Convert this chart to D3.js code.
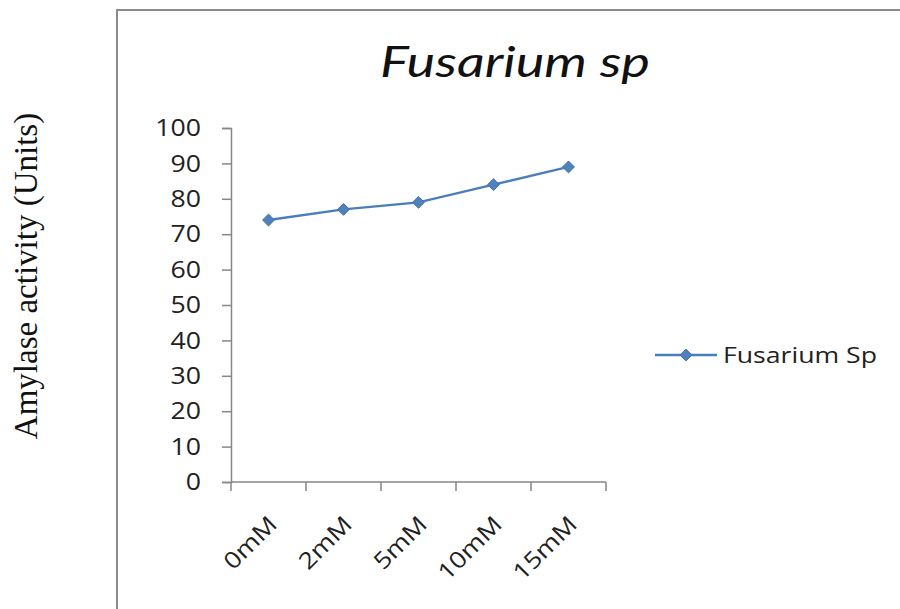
<!DOCTYPE html>
<html>
<head>
<meta charset="utf-8">
<script src="https://cdn.jsdelivr.net/npm/d3@7"></script>
<style>
  html, body { margin: 0; padding: 0; background: #fff; }
  svg { display: block; }
</style>
</head>
<body>
<svg id="chart" width="900" height="609"></svg>
<script>
// Amylase activity of Fusarium sp at different metal ion concentrations
const categories = ["0mM", "2mM", "5mM", "10mM", "15mM"];
const activity = [74, 77, 79, 84, 89];
const yTicks = [0, 10, 20, 30, 40, 50, 60, 70, 80, 90, 100];
const seriesName = "Fusarium Sp";
const chartTitle = "Fusarium sp";
const yLabel = "Amylase activity (Units)";

const svg = d3.select("#chart");
const blue = "#4a7ebb";
const axisGray = "#868686";
const textColor = "#222";
const sansFont = "'Open Sans', sans-serif";
const widen = 1.16; // horizontal stretch of the sans-serif labels

// chart frame
svg.append("rect")
  .attr("x", 117).attr("y", 10)
  .attr("width", 800).attr("height", 620)
  .attr("fill", "none").attr("stroke", "#8c8c8c").attr("stroke-width", 2);

const plot = { left: 231, right: 606, top: 128, bottom: 482 };

const x = d3.scaleBand().domain(categories).range([plot.left, plot.right]);
const y = d3.scaleLinear().domain([0, 100]).range([plot.bottom, plot.top]);

// y axis: line and ticks from d3.axisLeft, labels placed separately
const yAxis = svg.append("g")
  .attr("transform", `translate(${plot.left},0)`)
  .call(d3.axisLeft(y).tickValues(yTicks).tickSize(9).tickFormat(""));
yAxis.select(".domain").attr("stroke", axisGray).attr("stroke-width", 1.5);
yAxis.selectAll(".tick line").attr("stroke", axisGray).attr("stroke-width", 1.5);

svg.append("g").selectAll("text").data(yTicks).enter().append("text")
  .attr("transform", d => `translate(${plot.left - 30},${y(d)}) scale(${widen},1)`)
  .attr("text-anchor", "end")
  .attr("dy", "0.36em")
  .attr("fill", textColor)
  .style("font-family", sansFont)
  .style("font-size", "23px")
  .text(d => d);

// x axis with tick marks at band edges
const xAxisG = svg.append("g").attr("transform", `translate(0,${plot.bottom})`);
xAxisG.append("line")
  .attr("x1", plot.left).attr("x2", plot.right)
  .attr("stroke", axisGray).attr("stroke-width", 1.5);
const edges = categories.map(c => x(c)).concat([x(categories[categories.length - 1]) + x.bandwidth()]);
xAxisG.selectAll("line.tk").data(edges).enter().append("line")
  .attr("class", "tk")
  .attr("x1", d => d).attr("x2", d => d)
  .attr("y1", 0).attr("y2", 9)
  .attr("stroke", axisGray).attr("stroke-width", 1.5);
xAxisG.selectAll("text").data(categories).enter().append("text")
  .attr("transform", d => `translate(${x(d) + x.bandwidth() / 2 + 4},${38}) rotate(-45) scale(${widen},1)`)
  .attr("text-anchor", "end")
  .attr("dy", "0.36em")
  .attr("fill", textColor)
  .style("font-family", sansFont)
  .style("font-size", "23px")
  .text(d => d);

// series line and diamond markers
const cx = (d, i) => x(categories[i]) + x.bandwidth() / 2;
const line = d3.line().x(cx).y(d => y(d));
svg.append("path")
  .datum(activity)
  .attr("d", line)
  .attr("fill", "none")
  .attr("stroke", blue)
  .attr("stroke-width", 2.4);

const diamond = d3.symbol().type(d3.symbolDiamond2).size(90);
svg.selectAll("path.pt").data(activity).enter().append("path")
  .attr("class", "pt")
  .attr("d", diamond)
  .attr("transform", (d, i) => `translate(${cx(d, i)},${y(d)})`)
  .attr("fill", "#4f81bd")
  .attr("stroke", "#4572a7")
  .attr("stroke-width", 1);

// title
svg.append("text")
  .attr("x", 380).attr("y", 77)
  .attr("textLength", 270)
  .attr("lengthAdjust", "spacingAndGlyphs")
  .attr("fill", "#111")
  .style("font-family", "Lato, 'Open Sans', sans-serif")
  .style("font-style", "italic")
  .style("font-size", "42px")
  .text(chartTitle);

// legend
const lg = svg.append("g").attr("transform", "translate(655,355)");
lg.append("line").attr("x1", 0).attr("x2", 62)
  .attr("stroke", blue).attr("stroke-width", 2.4);
lg.append("path").attr("d", diamond)
  .attr("transform", "translate(31,0)")
  .attr("fill", "#4f81bd").attr("stroke", "#4572a7");
lg.append("text")
  .attr("x", 68).attr("y", 0).attr("dy", "0.36em")
  .attr("textLength", 154)
  .attr("lengthAdjust", "spacingAndGlyphs")
  .attr("fill", textColor)
  .style("font-family", sansFont)
  .style("font-size", "22px")
  .text(seriesName);

// y axis label
svg.append("text")
  .attr("transform", "translate(37,276) rotate(-90)")
  .attr("text-anchor", "middle")
  .attr("fill", "#111")
  .style("font-family", "'Liberation Serif', 'Times New Roman', serif")
  .style("font-size", "33px")
  .text(yLabel);
</script>
</body>
</html>
